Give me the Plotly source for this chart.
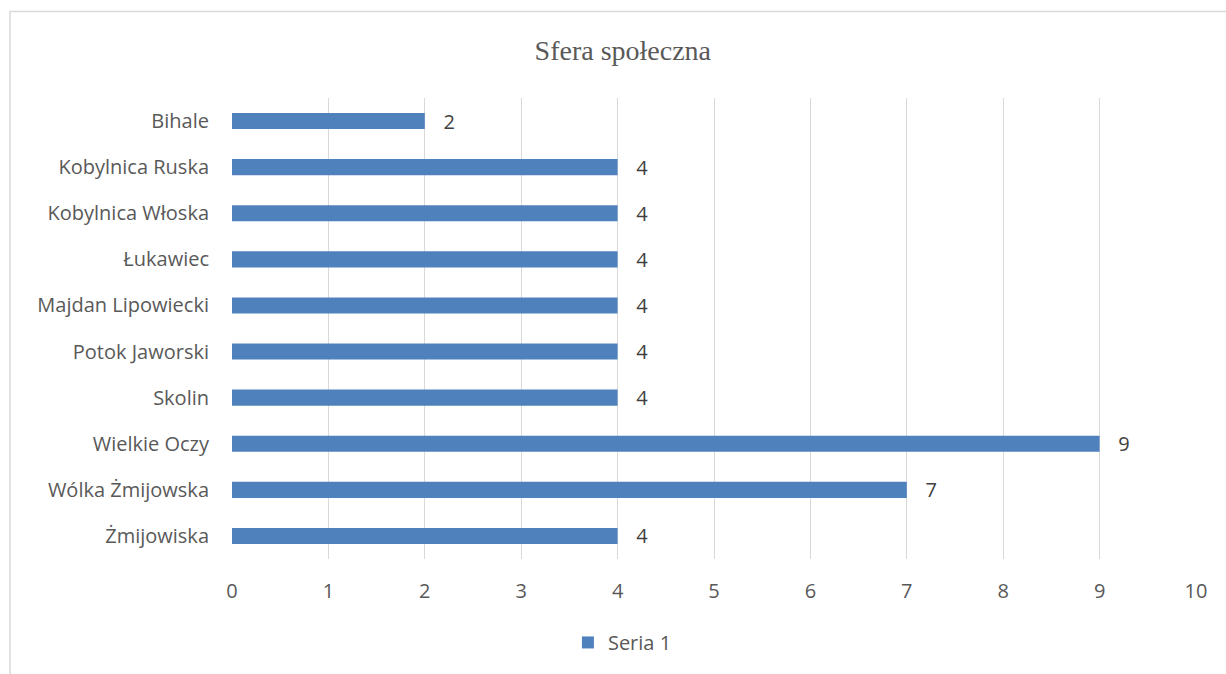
import plotly.graph_objects as go

categories = ["Bihale", "Kobylnica Ruska", "Kobylnica Włoska", "Łukawiec",
              "Majdan Lipowiecki", "Potok Jaworski", "Skolin", "Wielkie Oczy",
              "Wólka Żmijowska", "Żmijowiska"]
values = [2, 4, 4, 4, 4, 4, 4, 9, 7, 4]
series_name = "Seria 1"
x_ticks = [0, 1, 2, 3, 4, 5, 6, 7, 8, 9, 10]

FONT = "Open Sans, Liberation Sans, sans-serif"

fig = go.Figure()
fig.add_trace(go.Bar(
    y=categories, x=values, orientation="h", name=series_name,
    marker=dict(color="#4f81bd", line=dict(width=0)),
    width=0.35,
    text=["\u00a0\u00a0\u00a0" + str(v) for v in values], textposition="outside",
    constraintext="none",
    textfont=dict(family=FONT, size=20, color="#404040"),
    cliponaxis=False,
))

fig.update_layout(
    width=1226, height=674,
    margin=dict(l=232, r=30, t=98, b=113),
    paper_bgcolor="white", plot_bgcolor="white",
    title=dict(text="Sfera społeczna", x=0.508, xref="container", xanchor="center",
               y=1 - 50 / 674, yref="container", yanchor="middle",
               font=dict(family="Liberation Serif, Times New Roman, serif", size=28, color="#595959")),
    font=dict(family=FONT, size=20, color="#595959"),
    showlegend=True,
    legend=dict(orientation="h", x=0.405, xanchor="center", y=-0.181, yanchor="middle",
                font=dict(size=20, color="#595959"), itemwidth=30),
    xaxis=dict(range=[0, 10], tickvals=x_ticks, showgrid=True, gridcolor="#d9d9d9", gridwidth=1,
               zeroline=False, showline=False, ticks="", ticklabelstandoff=18,
               tickfont=dict(size=20, color="#595959")),
    yaxis=dict(autorange="reversed", showgrid=False, showline=False, ticks="",
               ticklabelstandoff=22, tickfont=dict(size=20, color="#595959")),
    shapes=[dict(type="rect", xref="paper", yref="paper",
                 x0=(10 - 232) / 964, x1=1.2, y0=-0.6, y1=(561 - 11) / 463,
                 line=dict(color="#d9d9d9", width=1.5), fillcolor="rgba(0,0,0,0)", layer="below")],
)

fig.write_html("out.html", config={"displayModeBar": False},
               post_script="document.body.style.margin='0';")
